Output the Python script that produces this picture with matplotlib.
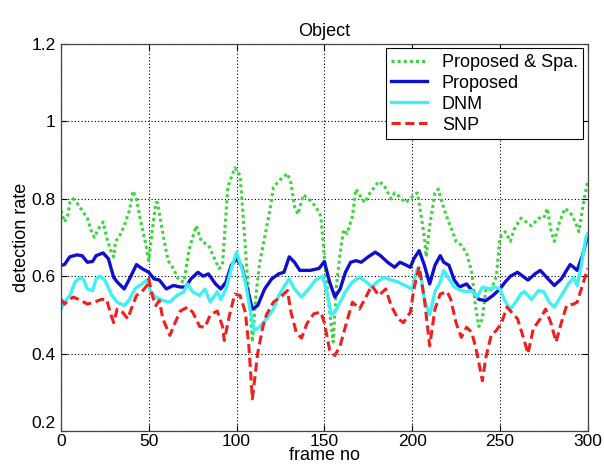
import matplotlib.pyplot as plt
import numpy as np

plt.rcParams['font.family'] = ['Liberation Sans', 'DejaVu Sans']

# readings: (frame, detection rate)
spa_f = [0, 2, 4, 5, 7, 9, 12, 15, 17, 19, 21, 24, 26, 28, 30, 31, 33, 36, 39, 41, 43, 45, 48, 50,
         52, 54, 55, 58, 61, 64, 67, 70, 73, 77, 80, 84, 87, 90, 92, 95, 99, 102, 104, 106, 108, 109,
         111, 113, 116, 119, 121, 125, 129, 131, 133, 135, 138, 141, 145, 148, 150, 152, 155, 157,
         159, 161, 163, 166, 168, 170, 173, 176, 181, 184, 188, 190, 193, 196, 199, 201, 203, 205,
         207, 208, 210, 213, 215, 217, 220, 223, 225, 228, 231, 234, 236, 238, 240, 242, 245, 248,
         250, 253, 256, 258, 262, 265, 268, 272, 275, 277, 279, 281, 284, 287, 290, 293, 295, 298, 300]
spa_v = [0.77, 0.74, 0.76, 0.79, 0.80, 0.79, 0.77, 0.75, 0.72, 0.70, 0.72, 0.74, 0.70, 0.67, 0.65,
         0.69, 0.70, 0.73, 0.77, 0.82, 0.80, 0.75, 0.69, 0.64, 0.72, 0.79, 0.79, 0.71, 0.64, 0.62,
         0.59, 0.585, 0.67, 0.73, 0.69, 0.68, 0.65, 0.62, 0.63, 0.83, 0.88, 0.86, 0.74, 0.61, 0.50,
         0.43, 0.55, 0.63, 0.70, 0.77, 0.83, 0.85, 0.865, 0.84, 0.78, 0.76, 0.81, 0.80, 0.78, 0.755,
         0.65, 0.55, 0.43, 0.58, 0.66, 0.72, 0.71, 0.755, 0.825, 0.81, 0.79, 0.815, 0.845, 0.835,
         0.80, 0.815, 0.805, 0.79, 0.80, 0.81, 0.815, 0.76, 0.70, 0.65, 0.73, 0.815, 0.825, 0.79,
         0.75, 0.715, 0.69, 0.68, 0.66, 0.61, 0.525, 0.47, 0.49, 0.565, 0.565, 0.60, 0.70, 0.715,
         0.69, 0.72, 0.75, 0.74, 0.73, 0.75, 0.75, 0.775, 0.72, 0.69, 0.74, 0.775, 0.765, 0.74,
         0.715, 0.80, 0.845]

prop_f = [0, 2, 5, 9, 12, 15, 18, 20, 24, 27, 30, 32, 36, 39, 43, 46, 50, 53, 56, 60, 64, 68, 71,
          74, 78, 81, 84, 88, 91, 94, 97, 100, 103, 106, 109, 112, 116, 120, 124, 127, 130, 133,
          136, 142, 147, 150, 153, 156, 159, 162, 165, 168, 171, 175, 179, 182, 186, 190, 193, 196,
          199, 201, 204, 207, 210, 213, 216, 218, 221, 224, 227, 231, 235, 238, 242, 246, 250, 253,
          256, 260, 263, 266, 270, 273, 276, 281, 285, 290, 292, 294, 297, 300]
prop_v = [0.628, 0.63, 0.65, 0.655, 0.653, 0.636, 0.638, 0.653, 0.66, 0.645, 0.597, 0.585, 0.567,
          0.593, 0.63, 0.62, 0.61, 0.593, 0.59, 0.567, 0.576, 0.572, 0.572, 0.593, 0.61, 0.60,
          0.606, 0.58, 0.567, 0.585, 0.628, 0.645, 0.625, 0.57, 0.515, 0.524, 0.567, 0.593, 0.606,
          0.61, 0.65, 0.636, 0.615, 0.615, 0.62, 0.638, 0.585, 0.546, 0.567, 0.61, 0.636, 0.64,
          0.636, 0.65, 0.662, 0.653, 0.636, 0.623, 0.636, 0.63, 0.623, 0.645, 0.666, 0.628, 0.58,
          0.628, 0.653, 0.636, 0.628, 0.59, 0.572, 0.58, 0.558, 0.54, 0.537, 0.55, 0.567, 0.585,
          0.60, 0.61, 0.60, 0.59, 0.606, 0.615, 0.60, 0.576, 0.593, 0.63, 0.623, 0.615, 0.653, 0.705]

dnm_f = [0, 2, 5, 8, 11, 13, 15, 18, 20, 22, 25, 29, 32, 36, 39, 42, 46, 49, 51, 54, 58, 62, 66,
         70, 72, 75, 79, 82, 85, 89, 91, 94, 97, 100, 103, 105, 108, 110, 113, 117, 121, 124, 128,
         130, 133, 137, 141, 145, 149, 151, 154, 156, 159, 162, 166, 170, 174, 177, 180, 184, 188,
         192, 196, 200, 203, 205, 207, 210, 213, 216, 218, 221, 224, 228, 231, 234, 237, 240, 244,
         247, 250, 253, 256, 259, 262, 264, 268, 272, 275, 278, 281, 285, 289, 292, 294, 296, 299, 300]
dnm_v = [0.515, 0.533, 0.55, 0.585, 0.597, 0.59, 0.567, 0.563, 0.593, 0.60, 0.59, 0.55, 0.533,
         0.524, 0.54, 0.567, 0.58, 0.59, 0.56, 0.546, 0.537, 0.533, 0.55, 0.56, 0.58, 0.56, 0.55,
         0.567, 0.533, 0.56, 0.54, 0.567, 0.62, 0.662, 0.62, 0.585, 0.507, 0.46, 0.468, 0.49, 0.515,
         0.55, 0.58, 0.593, 0.567, 0.546, 0.567, 0.59, 0.60, 0.567, 0.50, 0.507, 0.533, 0.56, 0.585,
         0.597, 0.585, 0.572, 0.585, 0.597, 0.59, 0.585, 0.576, 0.567, 0.62, 0.60, 0.54, 0.50, 0.56,
         0.585, 0.615, 0.593, 0.572, 0.563, 0.56, 0.563, 0.546, 0.572, 0.567, 0.572, 0.567, 0.535,
         0.515, 0.533, 0.555, 0.56, 0.54, 0.563, 0.56, 0.533, 0.52, 0.55, 0.58, 0.597, 0.576, 0.62,
         0.70, 0.71]

snp_f = [0, 2, 4, 7, 10, 13, 15, 19, 23, 26, 28, 30, 32, 35, 38, 40, 43, 46, 49, 50, 52, 54, 56,
         58, 62, 65, 68, 72, 75, 79, 82, 85, 89, 92, 93, 96, 99, 102, 105, 107, 109, 112, 115, 117,
         121, 125, 129, 131, 134, 137, 140, 144, 148, 150, 153, 156, 159, 162, 166, 170, 173, 177,
         181, 185, 188, 192, 195, 199, 201, 204, 207, 210, 213, 216, 220, 222, 225, 228, 231, 234,
         237, 240, 242, 245, 248, 251, 254, 257, 260, 263, 266, 269, 273, 276, 279, 282, 285, 288,
         292, 294, 297, 300]
snp_v = [0.54, 0.528, 0.537, 0.546, 0.54, 0.533, 0.528, 0.533, 0.54, 0.54, 0.507, 0.48, 0.515,
         0.507, 0.49, 0.515, 0.55, 0.56, 0.576, 0.593, 0.55, 0.524, 0.537, 0.49, 0.447, 0.48, 0.51,
         0.52, 0.507, 0.47, 0.468, 0.50, 0.51, 0.47, 0.434, 0.50, 0.554, 0.55, 0.507, 0.42, 0.283,
         0.40, 0.47, 0.50, 0.533, 0.546, 0.563, 0.507, 0.455, 0.44, 0.477, 0.503, 0.507, 0.48, 0.41,
         0.395, 0.42, 0.47, 0.533, 0.515, 0.54, 0.576, 0.55, 0.567, 0.524, 0.49, 0.48, 0.507, 0.567,
         0.625, 0.54, 0.42, 0.515, 0.554, 0.56, 0.54, 0.48, 0.442, 0.468, 0.455, 0.40, 0.33, 0.39,
         0.447, 0.46, 0.48, 0.52, 0.505, 0.49, 0.447, 0.40, 0.464, 0.49, 0.515, 0.48, 0.43, 0.48,
         0.524, 0.528, 0.533, 0.576, 0.62]

xticks = [0, 50, 100, 150, 200, 250, 300]
yticks = [0.2, 0.4, 0.6, 0.8, 1.0, 1.2]
ytick_labels = ['0.2', '0.4', '0.6', '0.8', '1', '1.2']

fig = plt.figure(figsize=(6.04, 4.67), dpi=100)
ax = fig.add_axes([0.101, 0.077, 0.872, 0.829])

ax.plot(spa_f, spa_v, color='#3ed43e', lw=2.2, ls=(0, (1, 1)), label='Proposed & Spa.')
ax.plot(prop_f, prop_v, color='#1010cc', lw=2.4, label='Proposed')
ax.plot(dnm_f, dnm_v, color='#3ff0f5', lw=2.4, label='DNM')
ax.plot(snp_f, snp_v, color='#ee2020', lw=2.2, ls=(0, (3, 1.5)), label='SNP')

ax.set_xlim(0, 300)
ax.set_ylim(0.2, 1.2)
ax.set_xticks(xticks)
ax.set_yticks(yticks)
ax.set_yticklabels(ytick_labels)
ax.tick_params(direction='in', top=True, right=True, labelsize=12.5, length=4)
ax.tick_params(axis='x', pad=2)
ax.tick_params(axis='y', pad=4)
ax.get_yticklabels()[0].set_verticalalignment('bottom')
ax.grid(True, color='black', ls=(0, (1, 2)), lw=0.8)
for s in ax.spines.values():
    s.set_color('#444444')
    s.set_linewidth(0.9)

ax.set_title('Object', fontsize=13, pad=6)
ax.set_xlabel('frame no', fontsize=13, labelpad=-1)
ax.set_ylabel('detection rate', fontsize=13, labelpad=1)

leg = ax.legend(loc='upper right', fontsize=13, handlelength=2.0, borderaxespad=0.25,
                fancybox=False, framealpha=1, edgecolor='black', labelspacing=0.22,
                borderpad=0.3, handletextpad=0.8)
leg.get_frame().set_linewidth(0.8)

fig.savefig('out.png', dpi=100)
